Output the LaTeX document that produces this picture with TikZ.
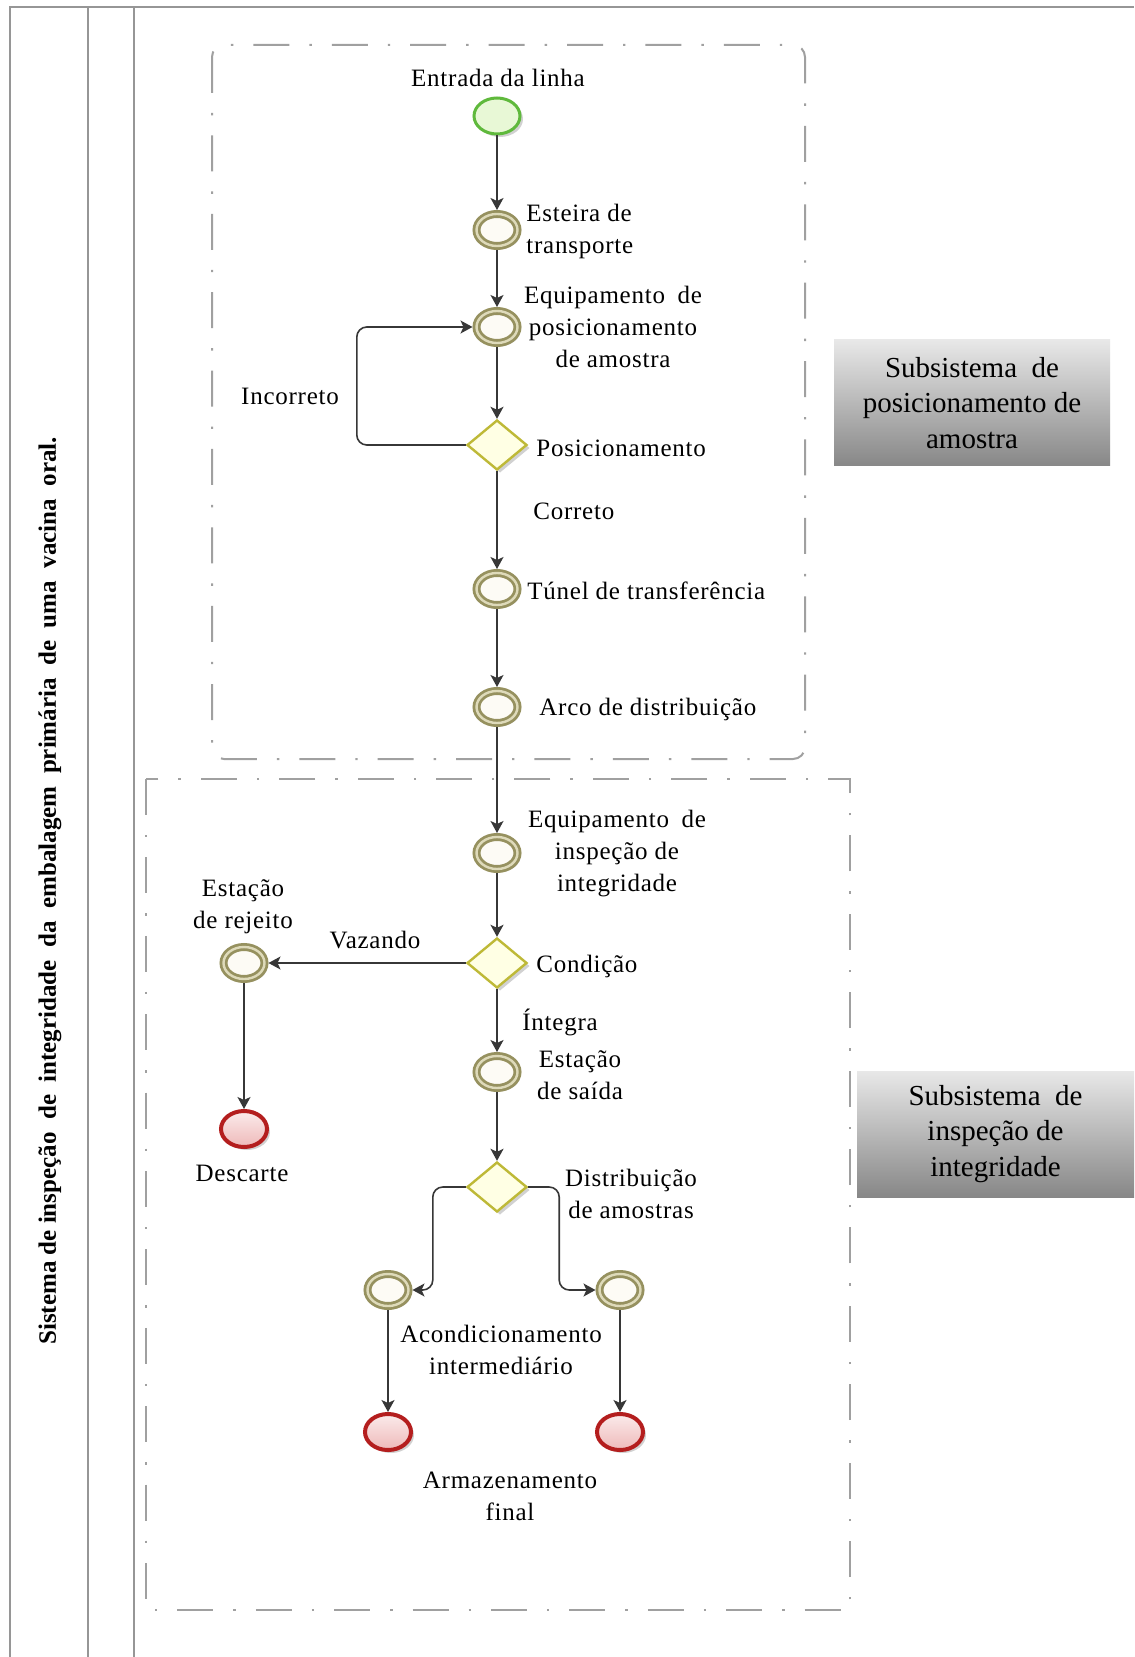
\documentclass[tikz,border=0pt]{standalone}
\usepackage{fontspec}
\setmainfont{Liberation Serif}
\newfontfamily\labfont{Liberation Serif}[LetterSpace=3]
\usetikzlibrary{shapes.geometric,arrows.meta,shadows,calc}
\definecolor{frm}{RGB}{150,150,150}
\definecolor{dsh}{RGB}{160,160,160}
\definecolor{lnc}{RGB}{55,55,55}
\definecolor{grn}{RGB}{95,185,60}
\definecolor{grnf}{RGB}{232,248,214}
\definecolor{olv}{RGB}{150,145,95}
\definecolor{olvl}{RGB}{222,218,186}
\definecolor{evf}{RGB}{253,251,245}
\definecolor{gwc}{RGB}{190,185,55}
\definecolor{gwf}{RGB}{255,255,228}
\definecolor{rd}{RGB}{180,30,30}
\definecolor{rdf}{RGB}{238,185,185}
\definecolor{rdl}{RGB}{251,235,235}
\definecolor{boxtop}{RGB}{232,232,232}
\definecolor{boxbot}{RGB}{135,135,135}
\begin{document}
\begin{tikzpicture}[x=0.5pt,y=-0.5pt,
  frame/.style={draw=frm,line width=1pt},
  dashbox/.style={draw=dsh,line width=1pt,dash pattern=on 18pt off 10pt on 1.2pt off 10pt},
  lab/.style={font=\labfont\fontsize{12.5}{16}\selectfont,inner sep=0pt},
  shd/.style={drop shadow={shadow xshift=1.5pt,shadow yshift=-1.5pt,opacity=0.18,fill=black}},
  startev/.style={ellipse,draw=grn,line width=1.5pt,fill=grnf,minimum width=23pt,minimum height=18pt,inner sep=0pt,outer sep=0.75pt,shd},
  evt/.style={ellipse,draw=olv,line width=1.4pt,double=olvl,double distance=1.2pt,fill=evf,minimum width=20.5pt,minimum height=16pt,inner sep=0pt,outer sep=2pt,shd},
  endev/.style={ellipse,draw=rd,line width=2pt,top color=rdl,bottom color=rdf,minimum width=23pt,minimum height=18pt,inner sep=0pt,outer sep=1pt,shd},
  gw/.style={diamond,draw=gwc,line width=1.2pt,fill=gwf,minimum width=30pt,minimum height=25pt,inner sep=0pt,outer sep=0.6pt,shd},
  arr/.style={draw=lnc,line width=0.8pt,-{Stealth[length=6pt,width=6.5pt,inset=1.5pt]}},
  sbox/.style={top color=boxtop,bottom color=boxbot,minimum width=138pt,minimum height=63pt,align=center,inner sep=0pt,font=\fontsize{14.5}{17.7}\selectfont}
]
\useasboundingbox (0,0) rectangle (1134,1657);
\fill[white] (0,0) rectangle (1134,1657);
% outer frame
\draw[frame] (10,1657) -- (10,7) -- (1134,7);
\draw[frame] (88,7) -- (88,1657);
\draw[frame] (134,7) -- (134,1657);
\node[rotate=90,font=\bfseries\fontsize{12.5}{14}\selectfont,inner sep=0pt] (title) at (50,891)
  {Sistema de inspeção\ \ de\ \ integridade\ \ da\ \ embalagem\ \ primária\ \ de\ \ uma\ \ vacina\ \ oral.};
% subsystem boxes
\draw[dashbox,rounded corners=6pt] (212,45) rectangle (805,759);
\draw[dashbox] (146,779) rectangle (850,1610);
\node[sbox] (sub1) at (972,403) {Subsistema\enspace de\\posicionamento de\\amostra};
\node[sbox,minimum width=138.5pt] (sub2) at (995.5,1134) {Subsistema\enspace de\\inspeção de\\integridade};
% events
\node[startev] (start) at (497,116) {};
\node[evt] (esteira) at (497,230) {};
\node[evt] (eqpos) at (497,327) {};
\node[gw] (gw1) at (497,445) {};
\node[evt] (tunel) at (497,589) {};
\node[evt] (arco) at (497,707) {};
\node[evt] (eqinsp) at (497,853) {};
\node[gw] (gw2) at (497,963) {};
\node[evt] (rejeito) at (244,963) {};
\node[endev] (descarte) at (244,1129) {};
\node[evt] (saida) at (497,1072) {};
\node[gw] (gw3) at (497,1187) {};
\node[evt] (acond) at (388,1290) {};
\node[evt] (outro) at (620,1290) {};
\node[endev] (fim1) at (388,1432) {};
\node[endev] (fim2) at (620,1432) {};
% connectors
\draw[arr] (start) -- (esteira);
\draw[arr] (esteira) -- (eqpos);
\draw[arr] (eqpos) -- (gw1);
\draw[arr,rounded corners=5pt] (gw1.west) -- ++(-109,0) |- (eqpos.west);
\draw[arr] (gw1) -- (tunel);
\draw[arr] (tunel) -- (arco);
\draw[arr] (arco) -- (eqinsp);
\draw[arr] (eqinsp) -- (gw2);
\draw[arr] (gw2) -- (rejeito);
\draw[arr] (rejeito) -- (descarte);
\draw[arr] (gw2) -- (saida);
\draw[arr] (saida) -- (gw3);
\draw[arr,rounded corners=5pt] (gw3.west) -- ++(-33,0) |- (acond.east);
\draw[arr,rounded corners=5pt] (gw3.east) -- ++(31,0) |- (outro.west);
\draw[arr] (acond) -- (fim1);
\draw[arr] (outro) -- (fim2);
% labels
\node[lab] (lEntrada) at (498,78) {Entrada da linha};
\node[lab,anchor=west,align=left] (lEsteira) at (526,231) {Esteira de\\transporte};
\node[lab,align=center] (lEqpos) at (613,327) {Equipamento\enspace de\\posicionamento\\de amostra};
\node[lab] (lIncorreto) at (290,396) {Incorreto};
\node[lab,anchor=west] (lPos) at (536,448) {Posicionamento};
\node[lab,anchor=west] (lCorreto) at (533,511) {Correto};
\node[lab,anchor=west] (lTunel) at (527,591) {Túnel de transferência};
\node[lab,anchor=west] (lArco) at (539,709) {Arco de distribuição};
\node[lab,align=center] (lEqinsp) at (617,854) {Equipamento\enspace de\\inspeção de\\integridade};
\node[lab,align=center] (lRejeito) at (243,907) {Estação\\de rejeito};
\node[lab] (lVazando) at (375,940) {Vazando};
\node[lab,anchor=west] (lCondicao) at (536,966) {Condição};
\node[lab,anchor=west] (lIntegra) at (522,1022) {Íntegra};
\node[lab,align=center] (lSaida) at (580,1075) {Estação\\de saída};
\node[lab] (lDescarte) at (242,1173) {Descarte};
\node[lab,align=center] (lDistrib) at (631,1194) {Distribuição\\de amostras};
\node[lab,align=center] (lAcond) at (501,1350) {Acondicionamento\\intermediário};
\node[lab,align=center] (lArmaz) at (510,1496) {Armazenamento\\final};
\end{tikzpicture}
\end{document}
